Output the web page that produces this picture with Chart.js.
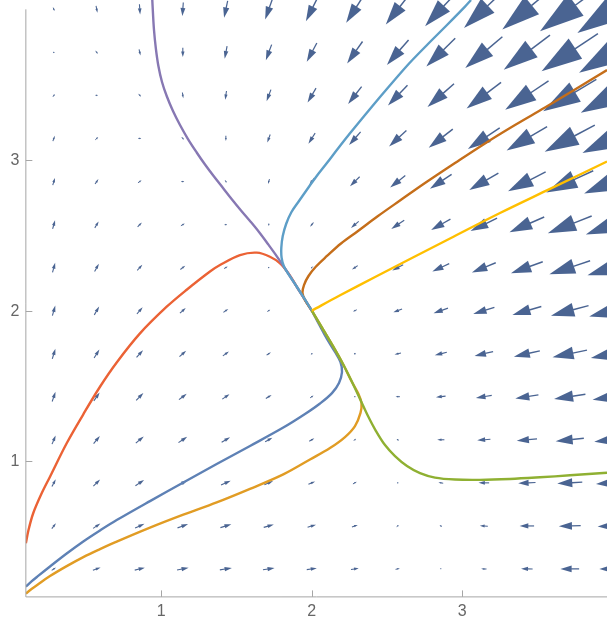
<!DOCTYPE html>
<html><head><meta charset="utf-8">
<script src="https://cdn.jsdelivr.net/npm/chart.js@4/dist/chart.umd.min.js"></script>
<style>html,body{margin:0;padding:0;background:#fff;overflow:hidden}canvas{display:block}</style>
</head><body>
<canvas id="c" width="607" height="618" style="width:607px;height:618px"></canvas>
<script>
// tick labels
const xTicks = [1, 2, 3];
const yTicks = [1, 2, 3];

// vector-field sample grid
const gridX = [0.286,0.571,0.857,1.143,1.429,1.714,2,2.286,2.571,2.857,3.143,3.429,3.714,4];
const gridY = [0.286,0.571,0.857,1.143,1.429,1.714,2,2.286,2.571,2.857,3.143,3.429,3.714,4];

// horizontal components, one row per gridY value (bottom to top)
const fieldU = [
 [0.73,1.31,1.71,1.96,2.04,1.96,1.71,1.31,0.73,0.00,-0.90,-1.96,-3.18,-4.57],
 [0.69,1.22,1.59,1.80,1.84,1.71,1.43,0.98,0.37,-0.41,-1.35,-2.45,-3.71,-5.14],
 [0.65,1.14,1.47,1.63,1.63,1.47,1.14,0.65,0.00,-0.82,-1.80,-2.94,-4.24,-5.71],
 [0.61,1.06,1.35,1.47,1.43,1.22,0.86,0.33,-0.37,-1.22,-2.24,-3.43,-4.78,-6.29],
 [0.57,0.98,1.22,1.31,1.22,0.98,0.57,0.00,-0.73,-1.63,-2.69,-3.92,-5.31,-6.86],
 [0.53,0.90,1.10,1.14,1.02,0.73,0.29,-0.33,-1.10,-2.04,-3.14,-4.41,-5.84,-7.43],
 [0.49,0.82,0.98,0.98,0.82,0.49,0.00,-0.65,-1.47,-2.45,-3.59,-4.90,-6.37,-8.00],
 [0.45,0.73,0.86,0.82,0.61,0.24,-0.29,-0.98,-1.84,-2.86,-4.04,-5.39,-6.90,-8.57],
 [0.41,0.65,0.73,0.65,0.41,0.00,-0.57,-1.31,-2.20,-3.27,-4.49,-5.88,-7.43,-9.14],
 [0.37,0.57,0.61,0.49,0.20,-0.24,-0.86,-1.63,-2.57,-3.67,-4.94,-6.37,-7.96,-9.71],
 [0.33,0.49,0.49,0.33,0.00,-0.49,-1.14,-1.96,-2.94,-4.08,-5.39,-6.86,-8.49,-10.29],
 [0.29,0.41,0.37,0.16,-0.20,-0.73,-1.43,-2.29,-3.31,-4.49,-5.84,-7.35,-9.02,-10.86],
 [0.24,0.33,0.24,0.00,-0.41,-0.98,-1.71,-2.61,-3.67,-4.90,-6.29,-7.84,-9.55,-11.43],
 [0.20,0.24,0.12,-0.16,-0.61,-1.22,-2.00,-2.94,-4.04,-5.31,-6.73,-8.33,-10.08,-12.00]
];
// vertical components, same layout
const fieldV = [
 [0.49,0.45,0.41,0.37,0.33,0.29,0.24,0.20,0.16,0.12,0.08,0.04,0.00,-0.04],
 [0.90,0.82,0.73,0.65,0.57,0.49,0.41,0.33,0.24,0.16,0.08,0.00,-0.08,-0.16],
 [1.22,1.10,0.98,0.86,0.73,0.61,0.49,0.37,0.24,0.12,0.00,-0.12,-0.24,-0.37],
 [1.47,1.31,1.14,0.98,0.82,0.65,0.49,0.33,0.16,0.00,-0.16,-0.33,-0.49,-0.65],
 [1.63,1.43,1.22,1.02,0.82,0.61,0.41,0.20,0.00,-0.20,-0.41,-0.61,-0.82,-1.02],
 [1.71,1.47,1.22,0.98,0.73,0.49,0.24,0.00,-0.24,-0.49,-0.73,-0.98,-1.22,-1.47],
 [1.71,1.43,1.14,0.86,0.57,0.29,0.00,-0.29,-0.57,-0.86,-1.14,-1.43,-1.71,-2.00],
 [1.63,1.31,0.98,0.65,0.33,0.00,-0.33,-0.65,-0.98,-1.31,-1.63,-1.96,-2.29,-2.61],
 [1.47,1.10,0.73,0.37,0.00,-0.37,-0.73,-1.10,-1.47,-1.84,-2.20,-2.57,-2.94,-3.31],
 [1.22,0.82,0.41,0.00,-0.41,-0.82,-1.22,-1.63,-2.04,-2.45,-2.86,-3.27,-3.67,-4.08],
 [0.90,0.45,0.00,-0.45,-0.90,-1.35,-1.80,-2.24,-2.69,-3.14,-3.59,-4.04,-4.49,-4.94],
 [0.49,0.00,-0.49,-0.98,-1.47,-1.96,-2.45,-2.94,-3.43,-3.92,-4.41,-4.90,-5.39,-5.88],
 [0.00,-0.53,-1.06,-1.59,-2.12,-2.65,-3.18,-3.71,-4.24,-4.78,-5.31,-5.84,-6.37,-6.90],
 [-0.57,-1.14,-1.71,-2.29,-2.86,-3.43,-4.00,-4.57,-5.14,-5.71,-6.29,-6.86,-7.43,-8.00]
];

// stream lines (x, y)
const blueLine = [[0.1,0.168],[0.1378,0.203],[0.1777,0.236],[0.2605,0.302],[0.3714,0.388],[0.4817,0.468],[0.5927,0.541],[0.7037,0.610],[0.9249,0.736],[1.1462,0.859],[1.3681,0.982],[1.5894,1.102],[1.8106,1.224],[1.9548,1.314],[2.0545,1.384],[2.1342,1.453],[2.1807,1.520],[2.2007,1.593],[2.1907,1.659],[2.1542,1.726],[2.1010,1.812],[2.0478,1.911],[2,2]];
const orangeLine = [[0.1,0.1225],[0.1378,0.152],[0.1777,0.181],[0.2605,0.238],[0.3714,0.304],[0.4817,0.364],[0.5927,0.417],[0.7037,0.467],[0.9249,0.560],[1.1462,0.646],[1.3681,0.727],[1.5894,0.817],[1.8106,0.913],[1.988,1.012],[2.1209,1.088],[2.2206,1.161],[2.287,1.234],[2.3236,1.321],[2.3302,1.387],[2.3103,1.447],[2.2671,1.526],[2.2073,1.646],[2.1409,1.765],[2.0678,1.888],[2,2]];
const greenLine = [[3.9615,0.924],[3.7156,0.907],[3.5163,0.894],[3.3169,0.883],[3.1176,0.877],[2.9515,0.879],[2.8186,0.892],[2.7189,0.922],[2.6326,0.969],[2.5528,1.035],[2.4864,1.108],[2.4266,1.201],[2.3734,1.301],[2.3203,1.414],[2.2671,1.526],[2.2073,1.646],[2.1409,1.765],[2.0678,1.888],[2,2]];
const redLine = [[0.1,0.456],[0.1176,0.544],[0.1495,0.657],[0.2053,0.788],[0.2605,0.898],[0.3714,1.120],[0.4817,1.312],[0.5927,1.495],[0.7037,1.656],[0.8585,1.849],[1.0359,2.026],[1.1688,2.139],[1.3236,2.260],[1.390,2.303],[1.523,2.369],[1.634,2.385],[1.722,2.358],[1.789,2.314],[1.844,2.248],[1.922,2.124],[2,2]];
const purpleLine = [[0.9402,4.062],[0.9442,3.982],[0.9515,3.863],[0.9635,3.743],[0.9807,3.624],[1.0047,3.518],[1.0359,3.425],[1.0777,3.325],[1.1243,3.232],[1.1774,3.139],[1.2352,3.050],[1.2904,2.970],[1.3502,2.890],[1.4100,2.814],[1.4698,2.738],[1.5296,2.665],[1.5894,2.595],[1.6492,2.522],[1.7090,2.442],[1.7688,2.359],[1.8286,2.270],[1.9116,2.140],[2,2]];
const brownLine = [[3.9615,3.597],[3.7489,3.468],[3.5495,3.348],[3.3502,3.232],[3.1508,3.110],[2.9515,2.980],[2.7522,2.847],[2.5860,2.731],[2.4399,2.628],[2.3070,2.529],[2.1940,2.446],[2.1010,2.363],[2.0279,2.293],[1.9781,2.230],[1.9482,2.170],[1.9382,2.117],[1.9581,2.064],[2,2]];
const cyanLine = [[3.0578,4.062],[3.0179,4.018],[2.8983,3.896],[2.7721,3.770],[2.6525,3.647],[2.5528,3.534],[2.4532,3.418],[2.3535,3.299],[2.2538,3.177],[2.1741,3.076],[2.0990,2.978],[2.0279,2.887],[1.9661,2.801],[1.9150,2.728],[1.8650,2.655],[1.8300,2.577],[1.8070,2.495],[1.7975,2.418],[1.7995,2.350],[1.8153,2.293],[1.8485,2.237],[1.8950,2.167],[1.9482,2.084],[2,2]];
const yellowLine = [[2,2],[2.188,2.102],[2.4206,2.223],[2.6525,2.343],[2.9183,2.479],[3.2505,2.648],[3.5828,2.808],[3.9615,2.990]];

const lines = [
  {pts: blueLine,   color: '#5E81B5'},
  {pts: orangeLine, color: '#E19C24'},
  {pts: greenLine,  color: '#8FB032'},
  {pts: redLine,    color: '#EB6235'},
  {pts: purpleLine, color: '#8778B3'},
  {pts: brownLine,  color: '#C56E1A'},
  {pts: cyanLine,   color: '#5D9EC7'},
  {pts: yellowLine, color: '#FFBF00'}
];

const ARROW_COLOR = 'rgb(74,100,146)';
const VEC_SCALE = 0.0392;   // data units per field unit
const AXIS_COLOR = '#a6a6a6';
const LABEL_COLOR = '#666666';
const LABEL_FONT = "16px 'Liberation Sans', Arial, sans-serif";

const arrowPlugin = {
  id: 'arrows',
  beforeDatasetsDraw(chart) {
    const ctx = chart.ctx, sx = chart.scales.x, sy = chart.scales.y;
    ctx.save();
    ctx.fillStyle = ARROW_COLOR; ctx.strokeStyle = ARROW_COLOR;
    ctx.lineCap = 'butt';
    for (let j = 0; j < gridY.length; j++) {
      for (let i = 0; i < gridX.length; i++) {
        const u = fieldU[j][i], v = fieldV[j][i];
        const x0 = gridX[i], y0 = gridY[j];
        const tx = sx.getPixelForValue(x0 - VEC_SCALE * u / 2);
        const ty = sy.getPixelForValue(y0 - VEC_SCALE * v / 2);
        const hx = sx.getPixelForValue(x0 + VEC_SCALE * u / 2);
        const hy = sy.getPixelForValue(y0 + VEC_SCALE * v / 2);
        const dx = hx - tx, dy = hy - ty, L = Math.hypot(dx, dy);
        if (L < 0.4) {
          ctx.beginPath(); ctx.arc((hx+tx)/2, (hy+ty)/2, 0.8, 0, Math.PI*2); ctx.fill();
          continue;
        }
        const ux = dx / L, uy = dy / L, px = -uy, py = ux;
        const hl = 0.6 * L, hw = Math.max(0.9, 0.18 * L);
        const bx = hx - ux * hl, by = hy - uy * hl;
        ctx.lineWidth = Math.min(1.5, 0.9 + L * 0.02);
        ctx.beginPath(); ctx.moveTo(tx, ty); ctx.lineTo(bx + ux*0.5, by + uy*0.5); ctx.stroke();
        ctx.beginPath();
        ctx.moveTo(hx, hy);
        ctx.lineTo(bx + px * hw, by + py * hw);
        ctx.lineTo(bx - px * hw, by - py * hw);
        ctx.closePath(); ctx.fill();
      }
    }
    ctx.restore();
  }
};

const axisPlugin = {
  id: 'axes',
  afterDraw(chart) {
    const ctx = chart.ctx, sx = chart.scales.x, sy = chart.scales.y;
    const x0 = sx.getPixelForValue(0.1), y0 = sy.getPixelForValue(0.1);
    ctx.save();
    ctx.strokeStyle = AXIS_COLOR; ctx.lineWidth = 1;
    ctx.beginPath();
    ctx.moveTo(x0, y0); ctx.lineTo(chart.width, y0);
    ctx.moveTo(x0, y0); ctx.lineTo(x0, sy.getPixelForValue(4));
    xTicks.forEach(t => { const p = Math.round(sx.getPixelForValue(t)) + 0.5; ctx.moveTo(p, y0); ctx.lineTo(p, y0 - 6.5); });
    yTicks.forEach(t => { const p = Math.round(sy.getPixelForValue(t)) + 0.5; ctx.moveTo(x0, p); ctx.lineTo(x0 + 6.5, p); });
    ctx.stroke();
    ctx.fillStyle = LABEL_COLOR; ctx.font = LABEL_FONT;
    ctx.textBaseline = 'alphabetic';
    ctx.textAlign = 'center';
    xTicks.forEach(t => ctx.fillText(String(t), sx.getPixelForValue(t), y0 + 19.5));
    ctx.textAlign = 'right';
    yTicks.forEach(t => ctx.fillText(String(t), x0 - 6.5, sy.getPixelForValue(t) + 5.0));
    ctx.restore();
  }
};

new Chart(document.getElementById('c'), {
  type: 'scatter',
  data: {
    datasets: lines.map((l, k) => ({
      data: l.pts.map(p => ({x: p[0], y: p[1]})),
      showLine: true, borderColor: l.color, backgroundColor: l.color,
      borderWidth: 2.4, pointRadius: 0, pointHoverRadius: 0,
      tension: 0.35, fill: false, order: lines.length - k
    }))
  },
  options: {
    responsive: false, animation: false, devicePixelRatio: 1,
    layout: {padding: 0},
    plugins: {legend: {display: false}, tooltip: {enabled: false}},
    events: [],
    scales: {
      x: {
        type: 'linear', min: 0.1, max: 3.9615,
        grid: {display: false}, border: {display: false},
        afterBuildTicks: s => { s.ticks = xTicks.map(v => ({value: v})); },
        afterFit: s => { s.height = 21.1; s.paddingLeft = 0; s.paddingRight = 0; },
        ticks: {display: false}
      },
      y: {
        type: 'linear', min: 0.1, max: 4.062,
        grid: {display: false}, border: {display: false},
        afterBuildTicks: s => { s.ticks = yTicks.map(v => ({value: v})); },
        afterFit: s => { s.width = 25.85; s.paddingTop = 0; s.paddingBottom = 0; },
        ticks: {display: false}
      }
    }
  },
  plugins: [arrowPlugin, axisPlugin]
});
</script>
</body></html>
